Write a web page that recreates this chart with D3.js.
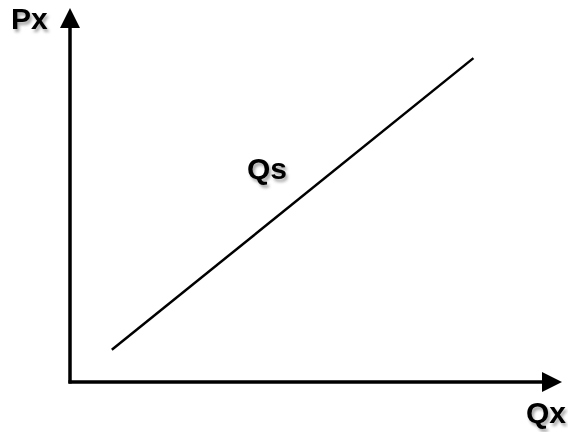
<!DOCTYPE html>
<html>
<head>
<meta charset="utf-8">
<script src="https://cdn.jsdelivr.net/npm/d3@7"></script>
<style>
  body { margin: 0; background: #fff; }
  #chart { width: 568px; height: 432px; }
  text { font-family: "Liberation Sans", Arial, sans-serif; font-weight: bold; }
</style>
</head>
<body>
<div id="chart"></div>
<script>
(function(){
// Data (arbitrary units 0-100 on both axes)
const quantity = [8.5, 82];
const price = [8.6, 86.6];
const curveLabel = "Qs";
const xAxisLabel = "Qx";
const yAxisLabel = "Px";

function drawChart() {
    const width = 568, height = 432;
    const svg = d3.select("#chart").append("svg")
        .attr("width", width)
        .attr("height", height);

    // drop shadow for labels
    const defs = svg.append("defs");
    const f = defs.append("filter").attr("id", "shadow")
        .attr("x", "-20%").attr("y", "-20%").attr("width", "150%").attr("height", "150%");
    f.append("feDropShadow")
        .attr("dx", 2).attr("dy", 3)
        .attr("stdDeviation", 1.6)
        .attr("flood-color", "#000")
        .attr("flood-opacity", 0.35);

    const x = d3.scaleLinear().domain([0, 100]).range([70, 562]);
    const y = d3.scaleLinear().domain([0, 100]).range([382, 8]);

    const head = 20, half = 10;

    // y axis with arrow
    svg.append("line")
        .attr("x1", x(0)).attr("y1", y(0) + 1.5)
        .attr("x2", x(0)).attr("y2", y(100) + head)
        .attr("stroke", "#000").attr("stroke-width", 3.5);
    svg.append("path")
        .attr("d", `M${x(0)},${y(100)} L${x(0) - half},${y(100) + head} L${x(0) + half},${y(100) + head} Z`)
        .attr("fill", "#000");

    // x axis with arrow
    svg.append("line")
        .attr("x1", x(0) - 1.5).attr("y1", y(0))
        .attr("x2", x(100) - head).attr("y2", y(0))
        .attr("stroke", "#000").attr("stroke-width", 3.5);
    svg.append("path")
        .attr("d", `M${x(100)},${y(0)} L${x(100) - head},${y(0) - half} L${x(100) - head},${y(0) + half} Z`)
        .attr("fill", "#000");

    // supply line
    const pts = quantity.map((q, i) => ({ q: q, p: price[i] }));
    svg.append("path")
        .datum(pts)
        .attr("d", d3.line().x(d => x(d.q)).y(d => y(d.p)))
        .attr("fill", "none")
        .attr("stroke", "#000")
        .attr("stroke-width", 2.5);

    // labels
    svg.append("text")
        .attr("x", 11).attr("y", 29)
        .attr("filter", "url(#shadow)")
        .style("font-size", "30px")
        .text(yAxisLabel);

    svg.append("text")
        .attr("x", 526).attr("y", 423)
        .attr("filter", "url(#shadow)")
        .style("font-size", "30px")
        .text(xAxisLabel);

    svg.append("text")
        .attr("x", 247).attr("y", 179)
        .attr("filter", "url(#shadow)")
        .style("font-size", "30px")
        .text(curveLabel);
}

drawChart();
})();
</script>
</body>
</html>
